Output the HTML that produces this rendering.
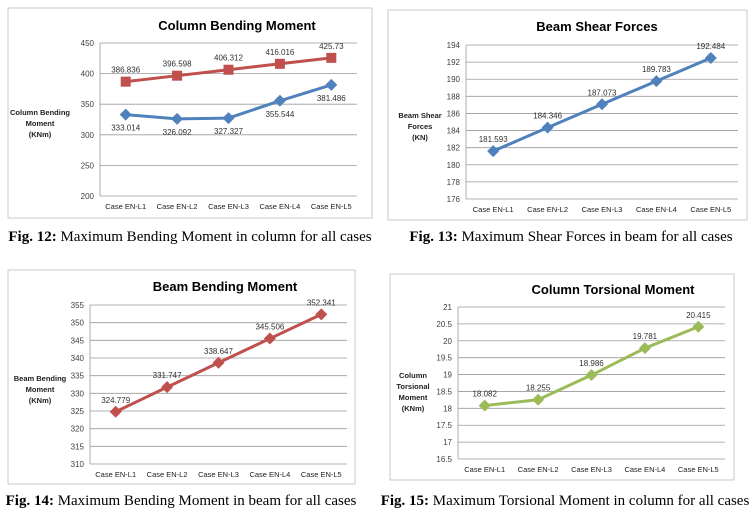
<!DOCTYPE html>
<html><head><meta charset="utf-8"><style>
html,body{margin:0;padding:0;background:#fff;}
svg{display:block;}
text{font-family:"Liberation Sans",sans-serif;}
.cap{font-family:"Liberation Serif",serif;font-size:15px;fill:#000;}
</style></head><body>
<svg id="pg" width="753" height="522" viewBox="0 0 753 522" xmlns="http://www.w3.org/2000/svg"></svg>
<script>
const categories = ["Case EN-L1","Case EN-L2","Case EN-L3","Case EN-L4","Case EN-L5"];
const colBendRed = [386.836, 396.598, 406.312, 416.016, 425.73];
const colBendBlue = [333.014, 326.092, 327.327, 355.544, 381.486];
const colBendTicks = [200,250,300,350,400,450];
const beamShear = [181.593, 184.346, 187.073, 189.783, 192.484];
const beamShearTicks = [176,178,180,182,184,186,188,190,192,194];
const beamBend = [324.779, 331.747, 338.647, 345.506, 352.341];
const beamBendTicks = [310,315,320,325,330,335,340,345,350,355];
const colTors = [18.082, 18.255, 18.986, 19.781, 20.415];
const colTorsTicks = [16.5,17,17.5,18,18.5,19,19.5,20,20.5,21];

const NS="http://www.w3.org/2000/svg";
const pg=document.getElementById('pg');
function mk(tag,attrs,parent){const e=document.createElementNS(NS,tag);for(const k in attrs)e.setAttribute(k,attrs[k]);(parent||pg).appendChild(e);return e;}

function chart(c){
  const g=mk('g',{});
  
  
  const fr=mk('rect',{x:c.fx,y:c.fy,width:c.fw,height:c.fh,fill:'#fff',stroke:'#c8c8c8','stroke-width':1},g);
  
  
  const t=mk('text',{x:c.tx,y:c.ty,'text-anchor':'middle','font-size':13,'font-weight':'bold',fill:'#000'},g);
  t.textContent=c.title;
  
  
  const lo=c.ticks[0],hi=c.ticks[c.ticks.length-1];
  const y=v=>c.bot-(v-lo)/(hi-lo)*(c.bot-c.top);
  const step=(c.right-c.left)/categories.length;
  const x=i=>c.left+step*(i+0.5);
  c.ticks.forEach(v=>{
    const gl=mk('line',{x1:c.left,x2:c.right,y1:y(v),y2:y(v),stroke:'#9a9a9a','stroke-width':0.8},g);
    
    
    const tl=mk('text',{x:c.left-6,y:y(v)+3,'text-anchor':'end','font-size':8,fill:'#404040'},g);
    tl.textContent=String(v);
    
    
  });
  const ax=mk('line',{x1:c.left,x2:c.left,y1:c.top,y2:c.bot,stroke:'#9a9a9a','stroke-width':0.8},g);
  
  
  categories.forEach((cat,i)=>{
    const xl=mk('text',{x:x(i),y:c.bot+13,'text-anchor':'middle','font-size':7.5,fill:'#202020'},g);
    xl.textContent=cat;
    
    
  });
  const yt=mk('text',{x:c.ylx,y:c.yly,'text-anchor':'middle','font-size':7.5,'font-weight':'bold',fill:'#202020'},g);
  
  
  c.ylab.forEach((s,i)=>{const ts=mk('tspan',{x:c.ylx,dy:i?11:0},yt);ts.textContent=s;});
  c.series.forEach(s=>{
    const pts=s.data.map((v,i)=>x(i)+','+y(v)).join(' ');
    const pl=mk('polyline',{points:pts,fill:'none',stroke:s.color,'stroke-width':3,'stroke-linejoin':'round'},g);
    
    
    s.data.forEach((v,i)=>{
      const px=x(i),py=y(v);
      let m;
      if(s.marker==='square') m=mk('rect',{x:px-5,y:py-5,width:10,height:10,fill:s.color},g);
      else m=mk('polygon',{points:`${px},${py-6} ${px+6},${py} ${px},${py+6} ${px-6},${py}`,fill:s.color},g);
      
      
      const lb=mk('text',{x:px,y:py+(s.below?16:-9),'text-anchor':'middle','font-size':8,fill:'#303030'},g);
      lb.textContent=String(v);
      
      
    });
  });
  const cp=mk('text',{x:c.cx,y:c.cy,'text-anchor':'middle',class:'cap'},pg);
  
  
  const b=mk('tspan',{'font-weight':'bold'},cp);b.textContent=c.capB;
  const r=mk('tspan',{},cp);r.textContent=c.capR;
}

chart({name:'column-bending-chart',fx:8,fy:8,fw:364,fh:210,tx:237,ty:30,title:'Column Bending Moment',
  left:100,right:357,top:43,bot:196,ticks:colBendTicks,ylx:40,yly:115,ylab:['Column Bending','Moment','(KNm)'],
  series:[{name:'column-bending-red',data:colBendRed,color:'#c0504d',marker:'square',below:false},
          {name:'column-bending-blue',data:colBendBlue,color:'#4f81bd',marker:'diamond',below:true}],
  cx:190,cy:241,capB:'Fig. 12:',capR:' Maximum Bending Moment in column for all cases'});
chart({name:'beam-shear-chart',fx:388,fy:10,fw:359,fh:210,tx:597,ty:31,title:'Beam Shear Forces',
  left:466,right:738,top:45,bot:199,ticks:beamShearTicks,ylx:420,yly:118,ylab:['Beam Shear','Forces','(KN)'],
  series:[{name:'beam-shear',data:beamShear,color:'#4f81bd',marker:'diamond',below:false}],
  cx:571,cy:241,capB:'Fig. 13:',capR:' Maximum Shear Forces in beam for all cases'});
chart({name:'beam-bending-chart',fx:8,fy:270,fw:347,fh:214,tx:225,ty:291,title:'Beam Bending Moment',
  left:90,right:347,top:305,bot:464,ticks:beamBendTicks,ylx:40,yly:381,ylab:['Beam Bending','Moment','(KNm)'],
  series:[{name:'beam-bending',data:beamBend,color:'#c0504d',marker:'diamond',below:false}],
  cx:181,cy:505,capB:'Fig. 14:',capR:' Maximum Bending Moment in beam for all cases'});
chart({name:'column-torsion-chart',fx:390,fy:274,fw:344,fh:206,tx:613,ty:294,title:'Column Torsional Moment',
  left:458,right:725,top:307,bot:459,ticks:colTorsTicks,ylx:413,yly:378,ylab:['Column','Torsional','Moment','(KNm)'],
  series:[{name:'column-torsion',data:colTors,color:'#9bbb59',marker:'diamond',below:false}],
  cx:565,cy:505,capB:'Fig. 15:',capR:' Maximum Torsional Moment in column for all cases'});
</script>
</body></html>
